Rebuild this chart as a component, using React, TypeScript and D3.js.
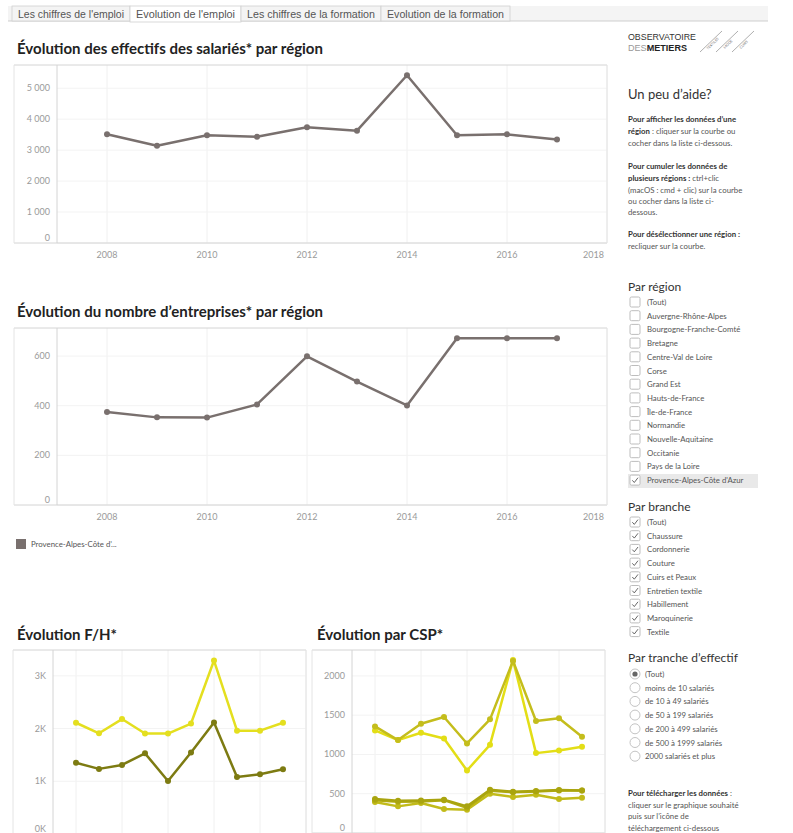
import React from 'react';
import * as d3 from 'd3';

// ---- data ----
const years = [2008, 2009, 2010, 2011, 2012, 2013, 2014, 2015, 2016, 2017];
const xTicks = [2008, 2010, 2012, 2014, 2016, 2018];

const effectifs = [3510, 3140, 3480, 3430, 3740, 3630, 5420, 3480, 3510, 3340];
const effectifTicks = [0, 1000, 2000, 3000, 4000, 5000];

const entreprises = [375, 353, 352, 405, 599, 497, 401, 672, 672, 672];
const entrepriseTicks = [0, 200, 400, 600];

const femmes = [2110, 1910, 2180, 1905, 1905, 2095, 3290, 1960, 1960, 2110];
const hommes = [1350, 1235, 1310, 1530, 1006, 1545, 2115, 1080, 1133, 1228];
const fhTicks = [0, 1000, 2000, 3000];

const csp1 = [1357, 1183, 1391, 1477, 1140, 1447, 2191, 1426, 1460, 1226];
const csp2 = [1306, 1183, 1277, 1204, 796, 1123, 2204, 1017, 1051, 1098];
const csp3 = [432, 411, 415, 424, 339, 551, 525, 534, 547, 542];
const csp4 = [418, 398, 400, 418, 322, 538, 518, 528, 540, 540];
const csp5 = [396, 339, 381, 305, 297, 500, 458, 487, 432, 449];
const cspTicks = [0, 500, 1000, 1500, 2000];

const tabs = ["Les chiffres de l'emploi", "Evolution de l'emploi", 'Les chiffres de la formation', 'Evolution de la formation'];
const regions = ['(Tout)', 'Auvergne-Rhône-Alpes', 'Bourgogne-Franche-Comté', 'Bretagne', 'Centre-Val de Loire', 'Corse', 'Grand Est', 'Hauts-de-France', 'Île-de-France', 'Normandie', 'Nouvelle-Aquitaine', 'Occitanie', 'Pays de la Loire', "Provence-Alpes-Côte d'Azur"];
const branches = ['(Tout)', 'Chaussure', 'Cordonnerie', 'Couture', 'Cuirs et Peaux', 'Entretien textile', 'Habillement', 'Maroquinerie', 'Textile'];
const tranches = ['(Tout)', 'moins de 10 salariés', 'de 10 à 49 salariés', 'de 50 à 199 salariés', 'de 200 à 499 salariés', 'de 500 à 1999 salariés', '2000 salariés et plus'];

const FONT = 'Lato, "Open Sans", sans-serif';
const GRAY_LINE = '#79706e';

const frFormat = d3.formatLocale({ decimal: ',', thousands: '\u00a0', grouping: [3], currency: ['', '€'] }).format(',d');

function LineChart({ left, axisX, right, top, bottom, yMax, ticks, fmt, series, showX, sw = 2.5, r = 3 }) {
  const x = d3.scaleLinear().domain([2007, 2018]).range([axisX, right]);
  const y = d3.scaleLinear().domain([0, yMax]).range([bottom, top]);
  const line = d3.line<number>().x((d, i) => x(years[i])).y(d => y(d));
  return (
    <g>
      {xTicks.map(t => (
        <line key={'vx' + t} x1={x(t)} x2={x(t)} y1={top} y2={bottom} stroke="#f0f0f0" />
      ))}
      {ticks.map(t => (
        <line key={'hy' + t} x1={axisX} x2={right} y1={y(t)} y2={y(t)} stroke="#f3f3f3" />
      ))}
      <line x1={left} x2={right} y1={top} y2={top} stroke="#d4d4d4" />
      <line x1={left} x2={right} y1={bottom} y2={bottom} stroke="#d4d4d4" />
      <line x1={left} x2={left} y1={top} y2={bottom} stroke="#e4e4e4" />
      <line x1={right} x2={right} y1={top} y2={bottom} stroke="#e4e4e4" />
      <line x1={axisX} x2={axisX} y1={top} y2={bottom} stroke="#d4d4d4" />
      {ticks.map(t => (
        <text key={'ty' + t} x={axisX - 7} y={Math.min(y(t) + 3, bottom - 2)} textAnchor="end" fontSize={9} fill="#9a9a9a" fontFamily={FONT}>
          {fmt(t)}
        </text>
      ))}
      {showX && xTicks.map((t, i) => (
        <text key={'tx' + t} x={i === xTicks.length - 1 ? right - 3 : x(t)} y={bottom + 15} textAnchor={i === xTicks.length - 1 ? 'end' : 'middle'} fontSize={9} fill="#9a9a9a" fontFamily={FONT}>
          {t}
        </text>
      ))}
      {series.map((s, k) => (
        <g key={'s' + k}>
          <path d={line(s.values) || ''} fill="none" stroke={s.color} strokeWidth={sw} strokeLinejoin="round" />
          {s.values.map((v, i) => (
            <circle key={i} cx={x(years[i])} cy={y(v)} r={r} fill={s.color} />
          ))}
        </g>
      ))}
    </g>
  );
}

function CheckBox({ x, y, checked }) {
  return (
    <g>
      <rect x={x} y={y} width={10} height={10} rx={1.5} fill="#fff" stroke="#bdbdbd" />
      {checked && <path d={`M${x + 2.3},${y + 5.2} L${x + 4.3},${y + 7.4} L${x + 8},${y + 2.6}`} fill="none" stroke="#555" strokeWidth={0.9} />}
    </g>
  );
}

function Radio({ x, y, checked }) {
  return (
    <g>
      <circle cx={x} cy={y} r={5} fill="#fff" stroke="#c4c4c4" />
      {checked && <circle cx={x} cy={y} r={2.6} fill="#666" />}
    </g>
  );
}

const tabX = [12, 130, 241, 381, 510];

export default function App() {
  const small = { fontFamily: FONT, fontSize: 7.8, fill: '#555' };
  const bold = { fontWeight: 700, fill: '#333' };
  const logoFont = '"Liberation Sans", sans-serif';
  return (
    <div style={{ position: 'absolute', left: 0, top: 0 }}>
      <svg width={793} height={833} style={{ display: 'block', background: '#fff' }}>
        {/* tabs */}
        <rect x={8} y={6} width={760} height={15} fill="#f4f4f4" />
        <line x1={8} x2={768} y1={21} y2={21} stroke="#cfcfcf" />
        {tabs.map((t, i) => (
          <g key={t}>
            <rect x={tabX[i]} y={6} width={tabX[i + 1] - tabX[i]} height={i === 1 ? 16 : 15} fill={i === 1 ? '#fff' : '#f4f4f4'} stroke="#d0d0d0" strokeWidth={0.8} />
            <text x={tabX[i] + 6} y={17.5} fontSize={10.5} fill="#555" fontFamily='"Liberation Sans Narrow", "Arial Narrow", sans-serif' textLength={tabX[i + 1] - tabX[i] - 12} lengthAdjust="spacingAndGlyphs">{t}</text>
          </g>
        ))}

        {/* titles */}
        <text x={17} y={54} fontSize={15} fontWeight={700} fill="#222" fontFamily={FONT}>Évolution des effectifs des salariés* par région</text>
        <text x={17} y={317} fontSize={15} fontWeight={700} fill="#222" fontFamily={FONT}>Évolution du nombre d’entreprises* par région</text>
        <text x={17} y={640} fontSize={15} fontWeight={700} fill="#222" fontFamily={FONT}>Évolution F/H*</text>
        <text x={317} y={640} fontSize={15} fontWeight={700} fill="#222" fontFamily={FONT}>Évolution par CSP*</text>

        <LineChart left={14} axisX={57} right={607} top={65} bottom={243} yMax={5750} ticks={effectifTicks} fmt={frFormat} showX
          series={[{ values: effectifs, color: GRAY_LINE }]} />
        <LineChart left={14} axisX={57} right={607} top={328} bottom={505} yMax={713} ticks={entrepriseTicks} fmt={d => String(d)} showX
          series={[{ values: entreprises, color: GRAY_LINE }]} />
        <LineChart left={13} axisX={53} right={306} top={650} bottom={834} yMax={3490} ticks={fhTicks} fmt={d => d / 1000 + 'K'} showX={false}
          series={[{ values: femmes, color: '#e4df1f' }, { values: hommes, color: '#7d7b12' }]} />
        <LineChart left={312} axisX={352} right={605} top={650} bottom={833} yMax={2330} ticks={cspTicks} fmt={d => String(d)} showX={false}
          series={[
            { values: csp5, color: '#c2bb1a' },
            { values: csp4, color: '#b3ad10' },
            { values: csp3, color: '#a9a40f' },
            { values: csp2, color: '#e3de16' },
            { values: csp1, color: '#c4bd1c' },
          ]} />

        {/* legend */}
        <rect x={16} y={539} width={10} height={10} fill={GRAY_LINE} />
        <text x={31} y={547} {...small}>Provence-Alpes-Côte d’...</text>

        {/* logo */}
        <text x={628} y={40} fontSize={9.5} fill="#333" fontFamily={logoFont} textLength={68} lengthAdjust="spacingAndGlyphs">OBSERVATOIRE</text>
        <text x={628} y={51} fontSize={9.5} fill="#999" fontFamily={logoFont} textLength={59} lengthAdjust="spacingAndGlyphs">
          DES<tspan fontWeight={700} fill="#222">METIERS</tspan>
        </text>
        <line x1={700} y1={52} x2={722} y2={31} stroke="#999" strokeWidth={0.8} />
        <line x1={716} y1={52} x2={738} y2={31} stroke="#999" strokeWidth={0.8} />
        <line x1={732} y1={52} x2={754} y2={31} stroke="#999" strokeWidth={0.8} />
        <text transform="translate(708,50) rotate(-45)" fontSize={3.6} fill="#777" fontFamily={FONT}>TEXTILES</text>
        <text transform="translate(725,49) rotate(-45)" fontSize={3.6} fill="#777" fontFamily={FONT}>MODE</text>
        <text transform="translate(741,49) rotate(-45)" fontSize={3.6} fill="#777" fontFamily={FONT}>CUIRS</text>

        {/* help */}
        <text x={628} y={99} fontSize={13} fill="#333" fontFamily={FONT}>Un peu d’aide?</text>
        <g {...small}>
          <text x={628} y={122}><tspan {...bold}>Pour afficher les données d’une</tspan></text>
          <text x={628} y={134}><tspan {...bold}>région</tspan> : cliquer sur la courbe ou</text>
          <text x={628} y={146}>cocher dans la liste ci-dessous.</text>
          <text x={628} y={169}><tspan {...bold}>Pour cumuler les données de</tspan></text>
          <text x={628} y={181}><tspan {...bold}>plusieurs régions :</tspan> ctrl+clic</text>
          <text x={628} y={193}>(macOS : cmd + clic) sur la courbe</text>
          <text x={628} y={204}>ou cocher dans la liste ci-</text>
          <text x={628} y={215}>dessous.</text>
          <text x={628} y={237}><tspan {...bold}>Pour désélectionner une région :</tspan></text>
          <text x={628} y={249}>recliquer sur la courbe.</text>
        </g>

        {/* filters */}
        <text x={628} y={291} fontSize={12} fill="#333" fontFamily={FONT}>Par région</text>
        <rect x={628} y={474} width={130} height={14} fill="#e9e9e9" />
        {regions.map((r, i) => (
          <g key={r}>
            <CheckBox x={630} y={297 + i * 13.7} checked={i === regions.length - 1} />
            <text x={647} y={305 + i * 13.7} {...small}>{r}</text>
          </g>
        ))}

        <text x={628} y={511} fontSize={12} fill="#333" fontFamily={FONT}>Par branche</text>
        {branches.map((b, i) => (
          <g key={b}>
            <CheckBox x={630} y={517 + i * 13.7} checked />
            <text x={647} y={525 + i * 13.7} {...small}>{b}</text>
          </g>
        ))}

        <text x={628} y={662} fontSize={12} fill="#333" fontFamily={FONT}>Par tranche d’effectif</text>
        {tranches.map((t, i) => (
          <g key={t}>
            <Radio x={635} y={674 + i * 13.7} checked={i === 0} />
            <text x={645} y={677 + i * 13.7} {...small}>{t}</text>
          </g>
        ))}

        <g {...small}>
          <text x={628} y={796}><tspan {...bold}>Pour télécharger les données</tspan> :</text>
          <text x={628} y={808}>cliquer sur le graphique souhaité</text>
          <text x={628} y={819}>puis sur l’icône de</text>
          <text x={628} y={831}>téléchargement ci-dessous</text>
        </g>
      </svg>
    </div>
  );
}
